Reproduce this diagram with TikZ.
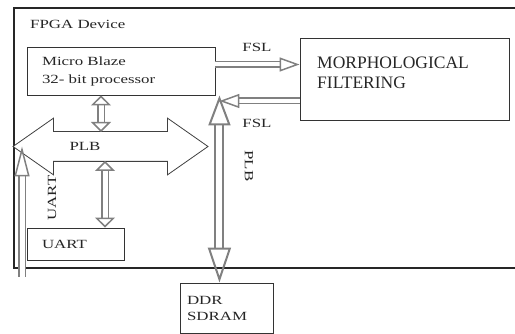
\documentclass[tikz,border=0pt]{standalone}
\usepackage{fontspec}
\setmainfont[FakeStretch=1.35]{Liberation Serif}
\newfontfamily\plainserif{Liberation Serif}
\usepackage{tikz}
\usetikzlibrary{arrows.meta,positioning,calc,shapes.arrows}

\begin{document}
\begin{tikzpicture}[x=1pt, y=-1pt,
  bx/.style={draw=black!80, line width=0.9pt, align=left, inner sep=0pt, text=black!85, font=\fontsize{12.5}{18}\selectfont},
  lb/.style={inner sep=0pt, text=black!85, font=\fontsize{12.5}{15}\selectfont},
  hollow/.style={draw=black!50, line width=1.5pt, double=white, double distance=#1},
  fsl/.style={hollow=4pt, -{Triangle[open, length=20pt, width=14pt]}},
  port/.style={hollow=5pt, {Triangle[open, length=10pt, width=20pt]}-{Triangle[open, length=10pt, width=20pt]}},
  bus/.style={hollow=6pt, line width=2pt, {Triangle[open, length=30pt, width=22pt]}-{Triangle[open, length=35pt, width=23pt]}},
  plbarrow/.style={double arrow, draw=black!75, fill=white, line width=0.8pt, inner sep=0pt, text height=14.5pt, text depth=14.5pt, double arrow head extend=13.5pt, double arrow tip angle=70}]
\useasboundingbox (0,0) rectangle (515,334);
% device frame
\draw[black!85, line width=1.2pt] (515,8) -| (14,268) -- (515,268);
\node[lb, anchor=west] (fpga) at (30,24) {FPGA Device};
% PLB bus
\node[plbarrow, minimum height=195pt] (plb) at (110.5,146.5) {};
\node[lb] (plbtxt) at (85,146) {PLB};
\coordinate (plbup) at ([yshift=14.5pt]plb.center);
\coordinate (plbdown) at ([yshift=-14.5pt]plb.center);
% blocks
\node[bx, minimum width=188pt, minimum height=48pt, text width=158pt] (mb) at (121,71) {Micro Blaze\\32- bit processor};
\node[bx, minimum width=209pt, minimum height=82pt] (morph) at (404.5,79) {};
\node[inner sep=0pt, anchor=west, align=left, text=black!85, font=\plainserif\fontsize{17.5}{20}\selectfont] (morphtxt) at (317,73) {MORPHOLOGICAL\\FILTERING};
\node[bx, minimum width=97pt, minimum height=32pt, text width=67pt] (uart) at (75.5,244) {UART};
\node[bx, minimum width=93pt, minimum height=50pt, text width=79pt, font=\fontsize{12.5}{16}\selectfont] (ddr) at (226.5,308) {DDR\\SDRAM};
% links
\coordinate (plbtop) at ([xshift=4pt]mb.south east);
\coordinate (mbport) at ([xshift=-20pt]mb.south);
\coordinate (uartport) at ([xshift=29.5pt]uart.north);
\coordinate (uartin) at (22,277);
\draw[port] (mbport) -- (mbport |- plbup);
\draw[port] (uartport) -- (uartport |- plbdown);
\draw[hollow=5pt, -{Triangle[open, length=30pt, width=15pt]}] (uartin) -- (uartin |- plb.west);
\draw[bus] (plbtop) -- (plbtop |- ddr.north);
\draw[fsl] ([yshift=6.5pt]mb.east) -- ([yshift=6.5pt]mb.east -| morph.west);
\draw[fsl] ([yshift=-22pt]morph.west) -- ([yshift=-22pt]morph.west -| plbtop);
% labels
\node[lb] (fsl1) at (257,47) {FSL};
\node[lb] (fsl2) at (257,123) {FSL};
\node[lb, rotate=-90] (plblbl) at (249,166) {PLB};
\node[lb, rotate=90] (uartlbl) at (52,198) {UART};
\end{tikzpicture}
\end{document}
